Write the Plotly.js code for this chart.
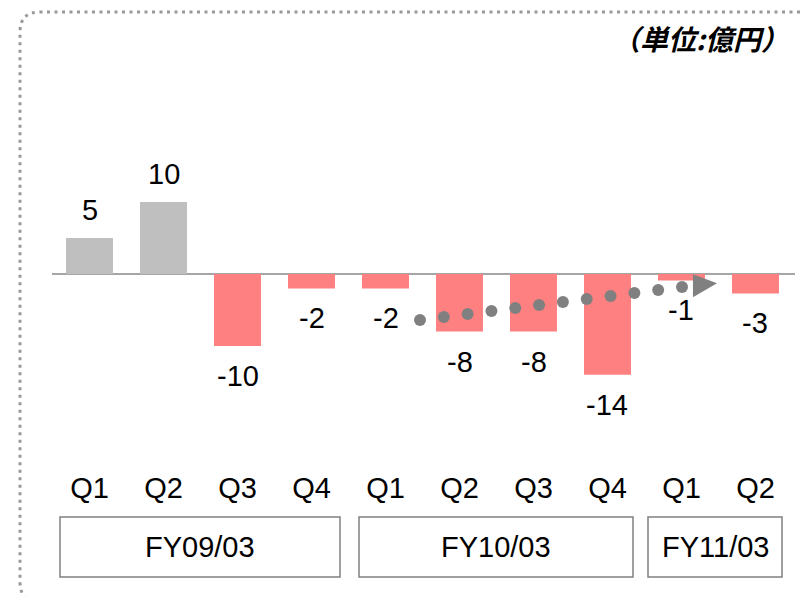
<!DOCTYPE html>
<html><head><meta charset="utf-8">
<script src="https://cdn.plot.ly/plotly-3.0.1.min.js"></script>
<style>html,body{margin:0;padding:0;background:#fff}#chart{width:801px;height:596px}</style>
</head><body><div id="chart"></div>
<script>
// ---- data ----
const quarters = ['Q1','Q2','Q3','Q4','Q1','Q2','Q3','Q4','Q1','Q2'];
const values = [5, 10, -10, -2, -2, -8, -8, -14, -0.9, -2.7];
const valueLabels = ['5','10','-10','-2','-2','-8','-8','-14','-1','-3'];
const fiscalYears = ['FY09/03','FY10/03','FY11/03'];
const unitLabel = '（単位:億円）';
const positiveColor = '#bfbfbf';
const negativeColor = '#ff8080';

// ---- geometry helpers (layout only) ----
const W = 801, H = 596, L = 52, R = 6, T = 40, B = 128;
const PW = W - L - R, PH = H - T - B;
const px = x => (x - L) / PW;
const py = y => (H - B - y) / PH;

const xIdx = quarters.map((_, i) => i);
const font = 'Liberation Sans, Arial, sans-serif';
const FS = 29;

const bars = {
  type: 'bar', x: xIdx, y: values, width: 0.635,
  marker: {color: values.map(v => v >= 0 ? positiveColor : negativeColor)},
  hoverinfo: 'skip'
};

// decorative trend arrow (dotted) in data coordinates
const trendStart = {x: 4.466, y: -6.39}, trendEnd = {x: 8.007, y: -1.81}, trendCount = 12;
const dotX = [], dotY = [];
for (let k = 0; k < trendCount; k++) {
  const t = k / (trendCount - 1);
  dotX.push(trendStart.x + (trendEnd.x - trendStart.x) * t);
  dotY.push(trendStart.y + (trendEnd.y - trendStart.y) * t);
}
const dots = {
  type: 'scatter', mode: 'markers', x: dotX, y: dotY,
  marker: {color: '#808080', size: 12}, hoverinfo: 'skip'
};

const annotations = values.map((v, i) => ({
  x: i, y: v, xref: 'x', yref: 'y', text: valueLabels[i], showarrow: false,
  yanchor: 'middle', yshift: v >= 0 ? 28 : -30,
  font: {family: font, size: FS, color: '#000'}
}));

const boxes = [[60, 340], [359, 633], [648, 782]];
const shapes = [];
boxes.forEach((b, i) => {
  shapes.push({type: 'rect', xref: 'paper', yref: 'paper',
    x0: px(b[0]), x1: px(b[1]), y0: py(577), y1: py(517),
    line: {color: '#808080', width: 1.5}, fillcolor: 'rgba(0,0,0,0)'});
  annotations.push({xref: 'paper', yref: 'paper', x: px((b[0] + b[1]) / 2), y: py(547),
    text: fiscalYears[i], showarrow: false, xanchor: 'center', yanchor: 'middle',
    font: {family: font, size: FS, color: '#000'}});
});

// arrow head
shapes.push({type: 'path', xref: 'x', yref: 'y',
  path: 'M8.155,-0.04 L8.48,-1.29 L8.155,-3.24 Z',
  fillcolor: '#808080', line: {width: 0}});

// dotted rounded frame
const fp = (x, y) => px(x) + ',' + py(y);
shapes.push({type: 'path', xref: 'paper', yref: 'paper',
  path: 'M' + fp(815, 12) + ' L' + fp(40, 12) + ' Q' + fp(20, 12) + ' ' + fp(20, 32) +
        ' L' + fp(20, 582) + ' Q' + fp(20, 602) + ' ' + fp(40, 602) + ' L' + fp(815, 602),
  line: {color: '#999999', width: 3, dash: '3px,4.5px'}, fillcolor: 'rgba(0,0,0,0)'});

annotations.push({xref: 'paper', yref: 'paper', x: px(700), y: py(38), text: '<b><i>' + unitLabel + '</i></b>',
  showarrow: false, xanchor: 'center', yanchor: 'middle',
  font: {family: 'Noto Sans CJK JP, sans-serif', size: 28, color: '#000'}});

const layout = {
  width: W, height: H, margin: {l: L, r: R, t: T, b: B},
  paper_bgcolor: '#fff', plot_bgcolor: '#fff', showlegend: false,
  xaxis: {range: [-0.507, 9.534], tickvals: xIdx, ticktext: quarters, showgrid: false,
    zeroline: false, showline: false, ticks: '', fixedrange: true,
    tickfont: {family: font, size: FS, color: '#000'}},
  yaxis: {range: [-26.944, 32.5], showgrid: false, showticklabels: false, ticks: '',
    zeroline: true, zerolinecolor: '#a6a6a6', zerolinewidth: 2, fixedrange: true},
  shapes: shapes, annotations: annotations
};

Plotly.newPlot('chart', [bars, dots], layout, {staticPlot: true, displayModeBar: false});
</script></body></html>
